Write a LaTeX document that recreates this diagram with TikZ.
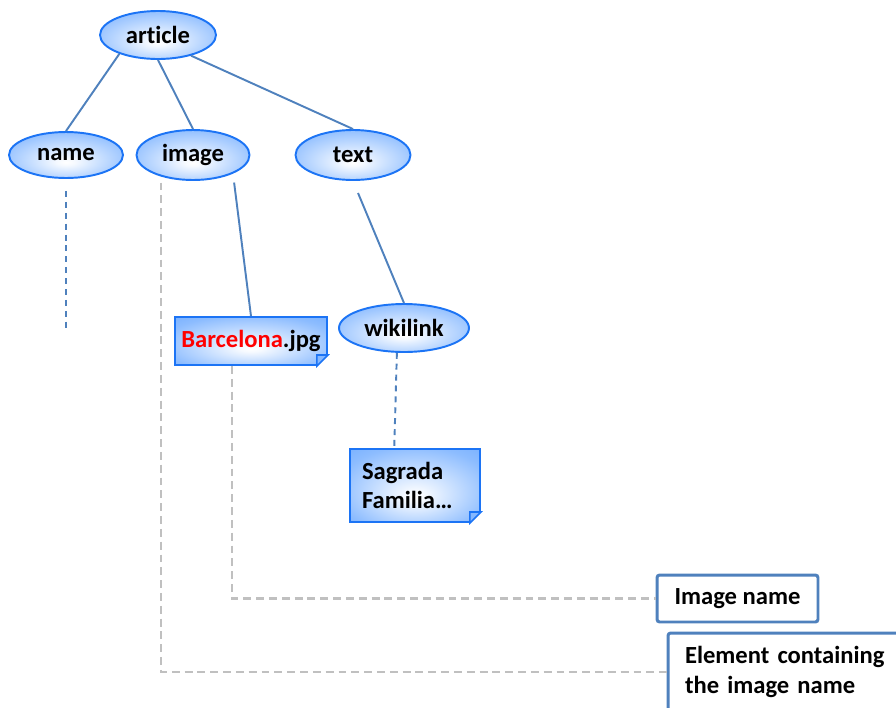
\documentclass[tikz,border=0pt]{standalone}
\usepackage{fontspec}
\setmainfont{Carlito}[Ligatures = NoCommon]
\usepackage{xcolor}
\usepackage{tikz}
\usetikzlibrary{positioning, shapes.geometric, calc}
\definecolor{xmlblue}{RGB}{92,160,255}
\definecolor{xmledge}{RGB}{28,116,245}
\definecolor{xmlline}{RGB}{79,129,189}
\definecolor{guidegray}{RGB}{192,192,192}
\pgfdeclareradialshading{xmlglow}{\pgfpoint{0bp}{-8bp}}{color(0bp)=(white); color(4bp)=(white!94!xmlblue); color(30bp)=(white!30!xmlblue); color(50bp)=(xmlblue)}
\tikzset{
element/.style = { ellipse, draw = xmledge, line width = 1.1pt, shading = xmlglow, minimum width = 2.3cm, minimum height = 0.96cm, inner sep = 0pt, font = \bfseries\fontsize{14}{17}\selectfont },
value/.style = { rectangle, draw = xmledge, line width = 1.1pt, shading = xmlglow, inner sep = 0pt, font = \bfseries\fontsize{14}{17}\selectfont },
legend box/.style = { rectangle, draw = xmlline, line width = 1.7pt, fill = white, rounded corners = 1.5pt, inner sep = 0pt, font = \bfseries\fontsize{14}{17}\selectfont },
tree link/.style = { draw = xmlline, line width = 1.1pt },
value link/.style = { draw = xmlline, line width = 1.1pt, dash pattern = on 3.4pt off 2.8pt },
guide/.style = { draw = guidegray, line width = 1.4pt, dash pattern = on 4.5pt off 2.8pt },
}
% folded corner of a value note
\newcommand{\dogear}[1]{
  \fill[white] ($(#1.south east)+(-11,0)$) -- (#1.south east) -- ($(#1.south east)+(0,-11)$) -- cycle;
  \draw[xmledge, line width = 0.9pt, fill = xmlblue!75] ($(#1.south east)+(-11,0)$) -- ($(#1.south east)+(-11,-11)$) -- ($(#1.south east)+(0,-11)$) -- cycle;
}

\begin{document}
\begin{tikzpicture}[x = 0.02cm, y = -0.02cm]
  \useasboundingbox (0, 0) rectangle (896, 707);

  \node[element, minimum width = 2.32cm] (article) at (158, 35) {article};
  \node[element, minimum width = 2.28cm, minimum height = 0.92cm] (name) at (66, 155) {name};
  \node[element, minimum width = 2.26cm, minimum height = 1.0cm] (image) at (193, 155) {image};
  \node[element, minimum height = 1.0cm] (text) at (353, 155) {text};
  \node[element, minimum width = 2.6cm] (wikilink) at (404, 328) {wikilink};

  \node[value, minimum width = 3.04cm, minimum height = 0.96cm] (barcelona) at (251, 341) {\textcolor{red}{Barcelona}.jpg};
  \node[value, minimum width = 2.6cm, minimum height = 1.46cm, text width = 2.12cm, align = left] (familia) at (415, 485.5) {Sagrada\\Familia\dots};
  \dogear{barcelona}
  \dogear{familia}

  \node[legend box, minimum width = 3.22cm, minimum height = 0.94cm] (imagename) at (737.5, 598.5) {Image name};
  \node[legend box, minimum height = 1.56cm, inner xsep = 0.34cm, text width = 4.16cm, align = left] (container) at (789, 672) {Element containing\\the image name};

  \coordinate (namevalue) at (66, 330);

  \draw[tree link] (article.206) -- (name.north);
  \draw[tree link] (article.south) -- (image.north);
  \draw[tree link] (article.-32) -- (text.north);
  \draw[tree link, shorten < = 0.18cm] (image.-25) -- (barcelona.north);
  \draw[tree link, shorten < = 0.26cm] (text.south) -- (wikilink.north);
  \draw[value link, shorten < = 0.24cm] (name.south) -- (namevalue);
  \draw[value link] (wikilink.254) -- (familia.119);

  \draw[guide, shorten < = 0.12cm] (image.214) |- (container.west);
  \draw[guide] (barcelona.233) |- (imagename.west);
\end{tikzpicture}
\end{document}
